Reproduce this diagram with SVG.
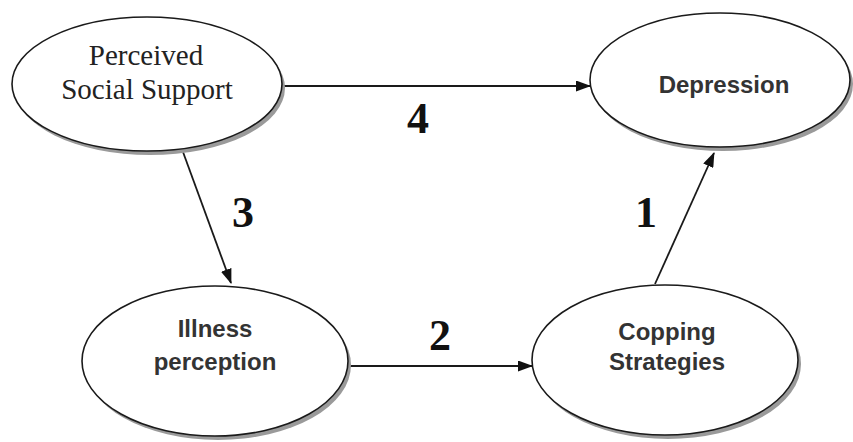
<svg xmlns="http://www.w3.org/2000/svg" width="853" height="442" viewBox="0 0 853 442">
<style>
.shadow{fill:#9a9a9a;stroke:none}
.node{fill:#ffffff;stroke:#1a1a1a;stroke-width:1.6}
.serif{font-family:"Liberation Serif","Times New Roman",serif;font-size:29px;fill:#222;text-anchor:middle}
.sans{font-family:"Liberation Sans",Arial,sans-serif;font-weight:bold;font-size:24px;fill:#333;text-anchor:middle}
.num{font-family:"Liberation Serif","Times New Roman",serif;font-weight:bold;font-size:44px;fill:#111;text-anchor:middle}
.edge{stroke:#1a1a1a;stroke-width:1.8;fill:none;marker-end:url(#arrow)}
</style>
<defs>
<marker id="arrow" markerWidth="15" markerHeight="11" refX="14" refY="5.5" orient="auto" markerUnits="userSpaceOnUse">
<path d="M0,0 L15,5.5 L0,11 Z" fill="#111"/>
</marker>
</defs>
<rect width="853" height="442" fill="#ffffff"/>
<g id="connectors">
<line class="edge" x1="283" y1="86" x2="590" y2="86"/>
<line class="edge" x1="183" y1="152" x2="231" y2="283"/>
<line class="edge" x1="349" y1="366" x2="532" y2="366"/>
<line class="edge" x1="655" y1="284" x2="714" y2="153"/>
<text class="num" x="418" y="133">4</text>
<text class="num" x="243" y="227">3</text>
<text class="num" x="440" y="350">2</text>
<text class="num" x="646" y="227">1</text>
</g>
<g id="perceived-social-support">
<ellipse class="shadow" cx="150" cy="88" rx="135" ry="67"/>
<ellipse class="node" cx="147" cy="84" rx="135" ry="67"/>
<text class="serif" x="146" y="65">Perceived</text>
<text class="serif" x="147" y="99">Social Support</text>
</g>
<g id="depression">
<ellipse class="shadow" cx="723" cy="84" rx="130" ry="67"/>
<ellipse class="node" cx="720" cy="80" rx="130" ry="67"/>
<text class="sans" x="724" y="93">Depression</text>
</g>
<g id="illness-perception">
<ellipse class="shadow" cx="218" cy="365" rx="133" ry="75"/>
<ellipse class="node" cx="215" cy="361" rx="133" ry="75"/>
<text class="sans" x="215" y="337">Illness</text>
<text class="sans" x="215" y="370">perception</text>
</g>
<g id="copping-strategies">
<ellipse class="shadow" cx="668" cy="364" rx="133" ry="75"/>
<ellipse class="node" cx="665" cy="360" rx="133" ry="75"/>
<text class="sans" x="667" y="340">Copping</text>
<text class="sans" x="667" y="370">Strategies</text>
</g>
</svg>
